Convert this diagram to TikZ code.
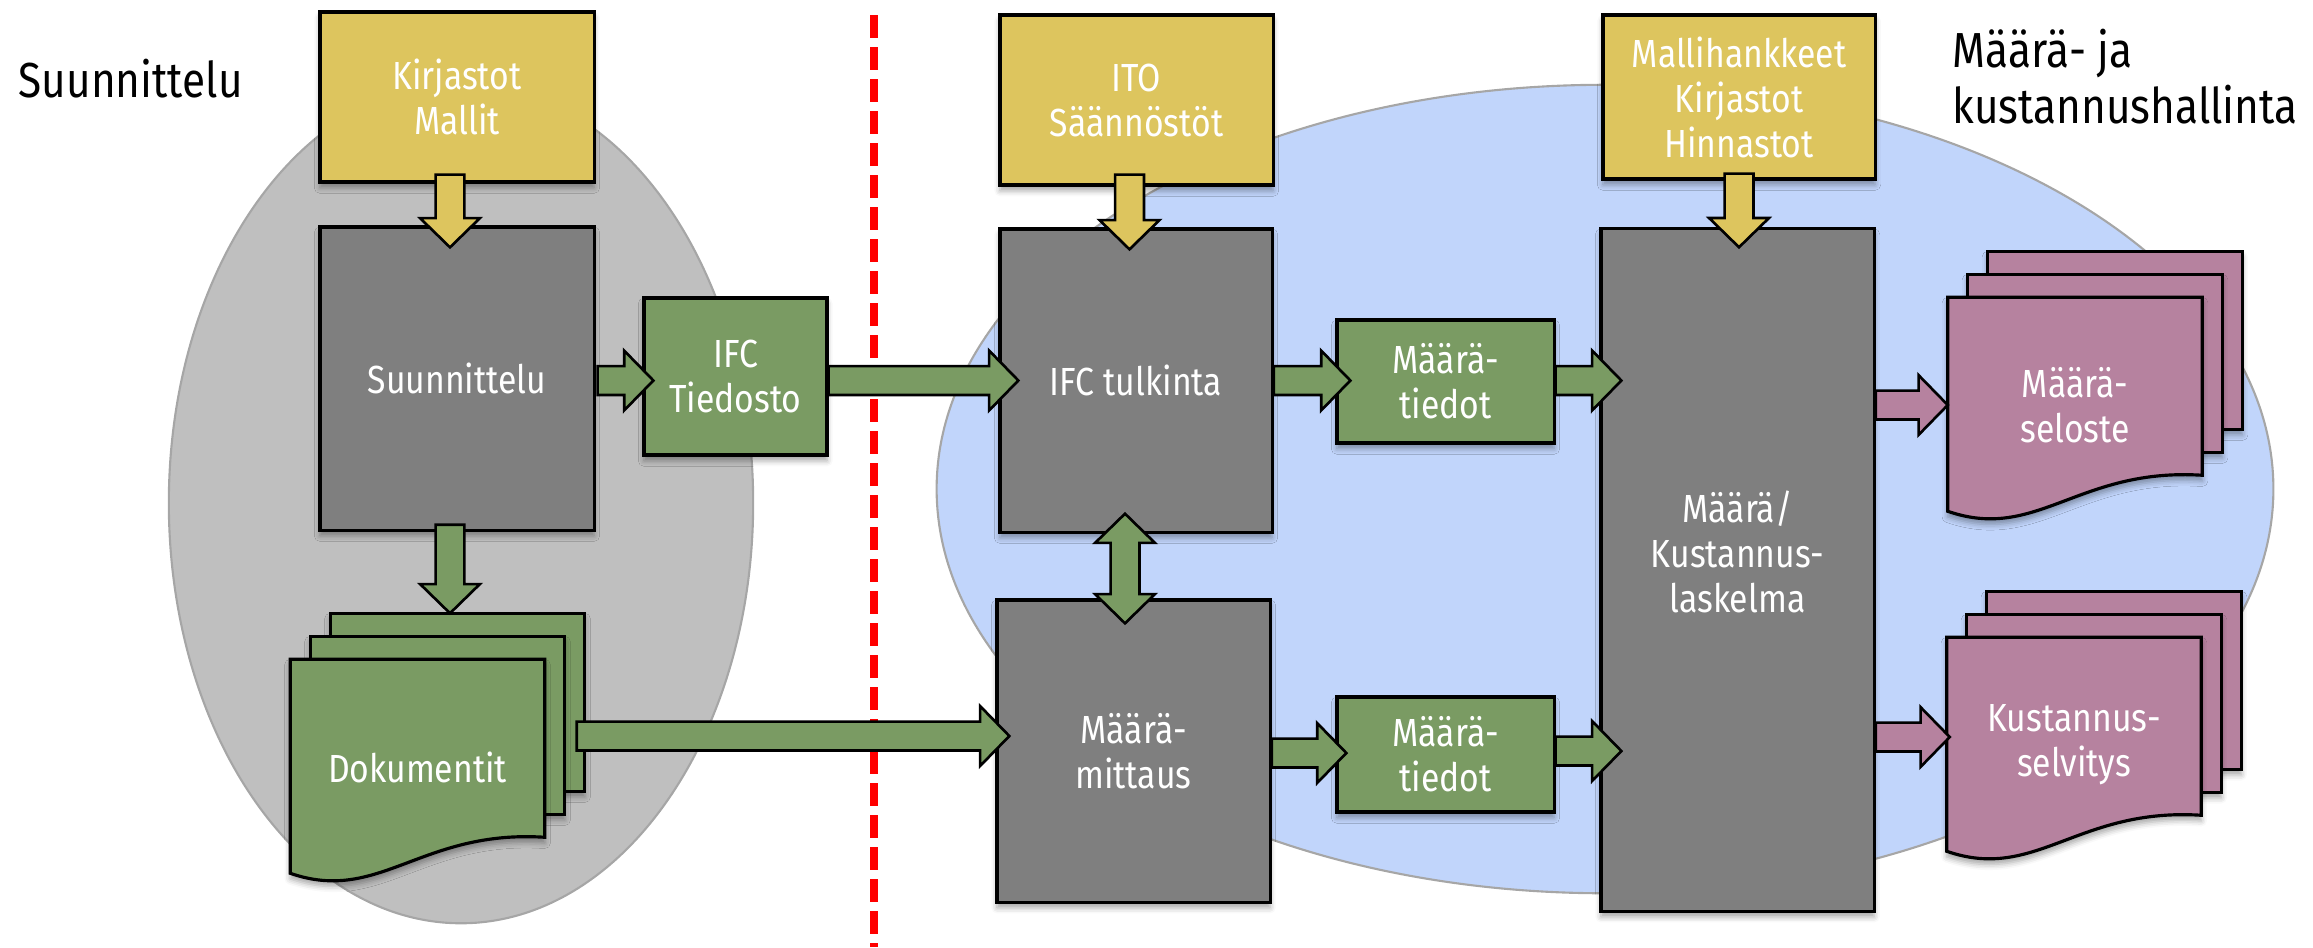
\documentclass[tikz,border=0pt]{standalone}
\usepackage{fontspec}
\setmainfont{Fira Sans}[FakeStretch=0.86]
\usetikzlibrary{calc,shadows.blur}

\definecolor{kelta}{HTML}{DDC55E}
\definecolor{harmaa}{HTML}{7F7F7F}
\definecolor{vihrea}{HTML}{7A9B63}
\definecolor{pinkki}{HTML}{B6829F}
\definecolor{soikio}{HTML}{BFBFBF}
\definecolor{sininen}{HTML}{C1D5FB}
\definecolor{reuna}{HTML}{A6A6A6}

\newcommand\boxfont{\fontsize{11.15}{12.8}\selectfont}
\newcommand\titlefont{\fontsize{14}{16}\selectfont}

% block arrows: tail, tip
\newcommand\rightarr[3]{%
  \filldraw[fill=#1, blockline] let \p1=#2, \p2=#3 in
    (\x1,\y1+4.1pt) -- (\x2-8.3pt,\y1+4.1pt) -- (\x2-8.3pt,\y1+8.5pt) -- (\x2,\y1)
    -- (\x2-8.3pt,\y1-8.5pt) -- (\x2-8.3pt,\y1-4.1pt) -- (\x1,\y1-4.1pt) -- cycle;}
\newcommand\downarr[3]{%
  \filldraw[fill=#1, blockline] let \p1=#2, \p2=#3 in
    (\x1-4.1pt,\y1) -- (\x1-4.1pt,\y2+8.3pt) -- (\x1-8.5pt,\y2+8.3pt) -- (\x1,\y2)
    -- (\x1+8.5pt,\y2+8.3pt) -- (\x1+4.1pt,\y2+8.3pt) -- (\x1+4.1pt,\y1) -- cycle;}
\newcommand\updownarr[3]{%
  \filldraw[fill=#1, blockline] let \p1=#2, \p2=#3 in
    (\x1,\y1) -- (\x1+8.5pt,\y1-8.3pt) -- (\x1+4.1pt,\y1-8.3pt) -- (\x1+4.1pt,\y2+8.3pt)
    -- (\x1+8.5pt,\y2+8.3pt) -- (\x1,\y2) -- (\x1-8.5pt,\y2+8.3pt) -- (\x1-4.1pt,\y2+8.3pt)
    -- (\x1-4.1pt,\y1-8.3pt) -- (\x1-8.5pt,\y1-8.3pt) -- cycle;}

% stack of three pages: name, centre, fill, text
\newcommand\docstack[4]{%
  \node[docbox] (#1) at (#2) {};
  \filldraw[fill=#3, page] ($(#1.north west)+(40,-46)$) rectangle ($(#1.north east)+(40,132)$);
  \filldraw[fill=#3, page] ($(#1.north west)+(20,-23)$) rectangle ($(#1.north east)+(20,155)$);
  \filldraw[fill=#3, page] (#1.north west) -- (#1.north east) -- ($(#1.north east)+(0,178)$)
    .. controls ($(#1.north east)+(-124,170)$) and ($(#1.north west)+(89,245)$) .. ($(#1.north west)+(0,214)$) -- cycle;
  \node[boxtext] (#1txt) at (#1) {#4};}

\begin{document}
\begin{tikzpicture}[x=0.01cm, y=-0.01cm,
  softshadow/.style={blur shadow={shadow xshift=0pt, shadow yshift=-1.6pt, shadow blur radius=1.6pt, shadow opacity=35}},
  box/.style={draw=black, line width=0.9pt, text=white, align=center, font=\boxfont, inner sep=0pt, softshadow},
  boxtext/.style={text=white, align=center, font=\boxfont, inner sep=0pt},
  docbox/.style={minimum width=2.53cm, minimum height=2.14cm, inner sep=0pt},
  page/.style={draw=black, line width=0.9pt, softshadow},
  blockline/.style={draw=black, line width=0.75pt, line join=miter},
  title/.style={font=\titlefont, text=black, inner sep=0pt, anchor=base west},
  cut/.style={red, line width=2.3pt, dash pattern=on 6.5pt off 2.6pt}]

\useasboundingbox (0,0) rectangle (2313,947);

% the two areas
\filldraw[fill=soikio, draw=reuna, line width=0.6pt] (461,503) ellipse [x radius=2.92cm, y radius=4.20cm];
\filldraw[fill=sininen, draw=reuna, line width=0.6pt] (1605,489) ellipse [x radius=6.68cm, y radius=4.04cm];

\coordinate (cutTop) at (874,15);
\coordinate (cutBot) at (874,947);
\draw[cut] (cutTop) -- (cutBot);

\node[title] (otsA) at (18,97) {Suunnittelu};
\node[title] (otsB) at (1952,67) {Määrä- ja};
\node[title] (otsC) at (1952,123) {kustannushallinta};

% boxes
\node[box, fill=kelta, minimum width=2.74cm, minimum height=1.70cm] (kirj) at (457,97) {Kirjastot\\Mallit};
\node[box, fill=harmaa, minimum width=2.74cm, minimum height=3.03cm] (suun) at (457,378.5) {Suunnittelu};
\node[box, fill=vihrea, minimum width=1.83cm, minimum height=1.57cm] (ifc) at (735.5,376.5) {IFC\\Tiedosto};
\node[box, fill=kelta, minimum width=2.73cm, minimum height=1.70cm] (ito) at (1136.5,100) {ITO\\Säännöstöt};
\node[box, fill=harmaa, minimum width=2.72cm, minimum height=3.03cm] (tulk) at (1136,380.5) {IFC tulkinta};
\node[box, fill=harmaa, minimum width=2.73cm, minimum height=3.02cm] (mitt) at (1133.5,751) {Määrä-\\mittaus};
\node[box, fill=vihrea, minimum width=2.17cm, minimum height=1.23cm] (tiedA) at (1445.5,381.5) {Määrä-\\tiedot};
\node[box, fill=vihrea, minimum width=2.17cm, minimum height=1.15cm] (tiedB) at (1445.5,754.5) {Määrä-\\tiedot};
\node[box, fill=kelta, minimum width=2.72cm, minimum height=1.64cm] (mall) at (1739,97) {Mallihankkeet\\Kirjastot\\Hinnastot};
\node[box, fill=harmaa, minimum width=2.73cm, minimum height=6.82cm] (lask) at (1737.5,570) {};
\node[boxtext] (laskTxt) at (1737.5,552) {Määrä/\\Kustannus-\\laskelma};

% documents
\docstack{dok}{417.5,767}{vihrea}{Dokumentit}
\docstack{selo}{2075,405}{pinkki}{Määrä-\\seloste}
\docstack{selv}{2074,745}{pinkki}{Kustannus-\\selvitys}

% arrows
\downarr{kelta}{($(kirj.south)+(-7,-9)$)}{($(suun.north)+(0,22)$)}
\downarr{kelta}{($(ito.south)+(-7,-12)$)}{($(tulk.north)+(0,22)$)}
\downarr{kelta}{($(mall.south)+(0,-7)$)}{($(lask.north)+(0,20)$)}
\downarr{vihrea}{($(suun.south)+(-7,-7)$)}{($(dok.north)+(0,-46)$)}
\rightarr{vihrea}{($(suun.east)+(2,2)$)}{($(ifc.west)+(11,0)$)}
\rightarr{vihrea}{(ifc.east |- tulk.west)}{($(tulk.west)+(20,0)$)}
\rightarr{vihrea}{($(dok.east)+(32,-31)$)}{($(mitt.west)+(14,0)$)}
\updownarr{vihrea}{($(tulk.south)+(-11,-20)$)}{($(mitt.north)+(-11,25)$)}
\rightarr{vihrea}{(tulk.east)}{($(tiedA.west)+(15,0)$)}
\rightarr{vihrea}{(tiedA.east |- tulk.east)}{($(lask.west)+(22,0)$)}
\rightarr{vihrea}{($(mitt.east)+(0,2)$)}{($(tiedB.west)+(11,0)$)}
\rightarr{vihrea}{(tiedB.east |- mitt.east)}{($(lask.west)+(22,0)$)}
\rightarr{pinkki}{(lask.east |- selo.west)}{(selo.west)}
\rightarr{pinkki}{($(lask.east |- selv.west)+(0,-8)$)}{($(selv.west)+(3,0)$)}

\end{tikzpicture}
\end{document}
